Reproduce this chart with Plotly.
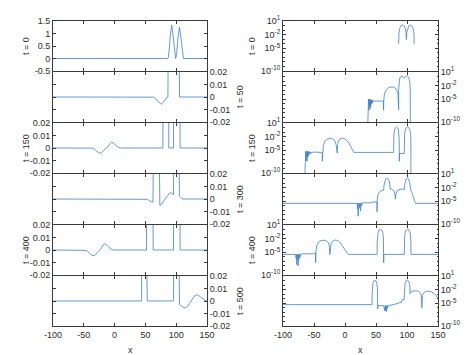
import plotly.graph_objects as go

# ---------------- data ----------------
times = [0, 50, 150, 300, 400, 500]

x_t0 = [-100, 86.4, 86.5, 86.63, 87.13, 88.38, 90.25, 92.75, 95.25, 97.13, 98.38, 98.88, 99.0,
        99.13, 99.63, 100.89, 102.78, 105.3, 107.82, 109.71, 110.97, 111.47, 111.6, 111.7, 150]
u_t0 = [0, 0, 1e-4, 1.33e-3, 0.033, 0.266, 0.865, 1.33, 0.865, 0.266, 0.033, 1.33e-3, 8e-4,
        1.25e-3, 0.031, 0.25, 0.81, 1.25, 0.81, 0.25, 0.031, 1.25e-3, 1e-4, 0, 0]

x_t50 = [-100, 36.6, 36.7, 37.1, 37.5, 37.9, 38.3, 38.7, 39.1, 39.6, 40.1, 40.6, 41.2, 41.8, 42.5,
         43.3, 44.2, 45.0, 45.8, 61.9, 62.2, 62.48, 63.58,
         66.34, 70.48, 76.0, 80.2, 83.35, 85.45, 86.29, 86.5, 86.6, 87.0, 88.0, 89.5, 91.3, 93.2,
         95.6, 98.0, 100.4, 102.2, 103.7, 104.7, 105.2, 105.4, 105.5, 150]
u_t50 = [0, 0, 1e-11, 9e-6, 3e-8, 1e-5, 1e-7, 8e-6, 4e-8, 9e-6, 3e-7, 8e-6, 1e-7, 9e-6, 8e-7,
         7e-6, 1.5e-6, 6e-6, 4e-6, 4e-6, 4e-8, -5.7e-6, -1.4e-4,
         -1.14e-3, -3.7e-3, -5.7e-3, -3.7e-3, -1.14e-3, -1.4e-4, -5.7e-6, 5e-8, 1.4e-3, 0.035, 0.28, 0.9, 1.38, 0.95,
         0.42, 0.95, 1.38, 0.9, 0.28, 0.035, 1.4e-3, 1e-12, 0, 0]

x_t150 = [-100, -64.8, -64.7, -64.3, -63.9, -63.5, -63.1, -62.7, -62.2, -61.7, -61.2, -60.6, -60.0,
          -59.2, -58.4, -57.4, -56.2, -54.8, -53.4, -52.4,
          -36.8, -36.6, -36.2, -35.0, -32.5, -29.0, -23.0, -19.0, -16.0, -14.0, -12.9,
          -12.5, -12.0, -10.5, -8.5, -6.0, -4.5, 0.0, 4.0, 7.0, 10.0, 12.5, 14.2, 78.4, 78.49, 78.86,
          79.78, 81.16, 83.0, 84.84, 86.22, 87.14, 87.51, 87.6, 88.0, 95.6, 95.71, 96.14, 97.21, 98.81,
          100.95, 103.09, 104.7, 105.77, 106.19, 106.3, 106.4, 150]
u_t150 = [0, 0, 1e-11, 6e-6, 2e-8, 6e-6, 5e-8, 5e-6, 1e-7, 6e-6, 4e-8, 5e-6, 3e-7,
          6e-6, 8e-7, 5e-6, 1.5e-6, 4.5e-6, 2.5e-6, 4e-6,
          3.4e-6, 4e-8, -4e-6, -1e-4, -9e-4, -2.8e-3, -4.2e-3, -2.8e-3, -9e-4, -1e-4, -4e-6,
          2.5e-6, 1e-4, 1e-3, 3e-3, 4.6e-3, 4.8e-3, 3e-3, 1e-3, 2.5e-4, 4e-5, 8e-6, 3.4e-6, 3.4e-6, 1.35e-3, 0.034,
          0.27, 0.88, 1.35, 0.88, 0.27, 0.034, 1.35e-3, 4e-8, 2e-6, 2e-6, 1.35e-3, 0.034, 0.27, 0.88,
          1.35, 0.88, 0.27, 0.034, 1.35e-3, 1e-12, 0, 0]

x_t300 = [-100, 19.6, 20.1, 20.6, 21.1, 21.6, 22.2, 22.8, 23.5, 24.2, 25.0, 25.9, 26.8, 27.7,
          43.0, 43.7, 51.5, 51.8, 52.0, 53.0, 55.0, 57.5, 60.0, 62.3, 62.94, 64.0,
          65.6, 67.75, 69.9, 71.5, 72.57, 73.1, 73.5, 75.0, 77.0, 79.0, 80.5, 81.2, 82.0, 84.0, 86.5,
          89.0, 91.4, 93.5, 95.5, 96.08, 97.04, 98.48, 100.4, 102.32, 103.76, 104.72, 105.2, 106.5,
          108.0, 109.5, 111.0, 112.3, 113.3, 150]
u_t300 = [3.5e-6, 3.5e-6, 2e-7, 4e-6, 5e-9, 3.6e-6, 3e-8, 4e-6, 4e-7, 4e-6, 8e-8, 4.2e-6, 1e-6, 4.5e-6,
          4.5e-6, 7e-6, 7e-6, 5e-8, -2e-5, -2.5e-4, -9e-4, -1.8e-3, -2.4e-3, -2.5e-3, 0.032, 0.26,
          0.85, 1.3, 0.85, 0.26, 0.032, -4.5e-3, -5.2e-3, -4.8e-3, -3.5e-3, -1.8e-3, -4e-4, -3e-5, 4e-4, 1.8e-3, 3.5e-3,
          4.6e-3, 5e-3, 4.5e-3, 3.5e-3, 0.032, 0.26, 0.85, 1.3, 0.85, 0.26, 0.032, 2.5e-3, 1.8e-3,
          8e-4, 2.5e-4, 5e-5, 1e-5, 3.5e-6, 3.5e-6]

x_t400 = [-100, -79.4, -78.9, -78.4, -77.9, -77.4, -76.8, -76.2, -75.5, -74.8, -74.0, -73.1, -72.1,
          -71.1, -70.3, -52.0, -51.0, -47.6, -47.3, -46.8, -45.5, -43.0,
          -40.0, -37.0, -34.0, -31.0, -28.0, -26.0, -25.0, -24.4, -23.8, -22.5, -20.5, -18.0, -16.0,
          -13.0, -10.0, -7.0, -4.5, -2.0, 1.0, 4.0, 6.2, 51.8, 51.91, 52.33, 53.39, 54.98, 57.1, 59.22,
          60.81, 61.87, 62.29, 62.4, 62.6, 95.6, 95.71, 96.14, 97.22, 98.84, 101.0, 103.16, 104.78,
          105.86, 106.29, 106.4, 150]
u_t400 = [3.4e-6, 3.4e-6, 5e-7, 3.6e-6, 2e-8, 3.6e-6, 1e-7, 3.8e-6, 1e-8, 3.8e-6, 3e-7, 4e-6, 1e-6,
          4.2e-6, 4.5e-6, 4.5e-6, 6e-6, 6e-6, 5e-8, -2e-5, -3e-4, -1.5e-3,
          -3.2e-3, -4.3e-3, -4.5e-3, -3.8e-3, -2e-3, -6e-4, -1e-4, -3e-6, 1e-4, 8e-4, 2.5e-3, 4.5e-3, 5e-3,
          4.2e-3, 2.6e-3, 1e-3, 3e-4, 7e-5, 1.5e-5, 5e-6, 3.4e-6, 3.4e-6, 1.2e-3, 0.03, 0.24, 0.78, 1.2, 0.78,
          0.24, 0.03, 1.2e-3, 5e-8, 3.4e-6, 3.4e-6, 1.2e-3, 0.03, 0.24, 0.78, 1.2, 0.78, 0.24,
          0.03, 1.2e-3, 3.4e-6, 3.4e-6]

x_t500 = [-100, 43.6, 43.79, 44.15, 45.05, 46.4, 48.2, 50.0, 51.35, 52.25, 52.61, 52.7, 53.0, 62.4,
          63.0, 63.6, 64.2, 64.8, 65.5, 66.2, 67.0, 67.8, 68.7, 69.6, 70.4, 80.0, 88.0,
          91.5, 92.0, 95.5, 95.7, 96.08, 97.04, 98.48, 100.4, 102.32, 103.76, 104.72, 105.1, 105.3,
          107.0, 110.0, 113.0, 116.0, 119.0, 121.5, 123.0, 124.0, 125.0, 127.0, 130.0, 133.0, 136.0,
          140.0, 144.0, 147.0, 150.0]
u_t500 = [5e-6, 5e-6, 1.25e-3, 0.031, 0.25, 0.81, 1.25, 0.81, 0.25, 0.031, 1.25e-3, 6e-7, 3e-6, 3e-6,
          4e-7, 3e-6, 2e-7, 3.2e-6, 3e-7, 3e-6, 1.5e-7, 3e-6, 8e-7, 3e-6, 3e-6, 6e-6, 1.2e-5,
          1.8e-5, 5.5e-5, 6e-5, 1.25e-3, 0.031, 0.25, 0.81, 1.25, 0.81, 0.25, 0.031, 1.25e-3, -2.5e-3,
          -3.5e-3, -4.8e-3, -5.5e-3, -5.3e-3, -4e-3, -2e-3, -6e-4, -1e-6, 5e-4, 2e-3, 4.2e-3, 5e-3, 4.5e-3,
          3e-3, 1.3e-3, 5e-4, 1e-4]

series = [(x_t0, u_t0), (x_t50, u_t50), (x_t150, u_t150),
          (x_t300, u_t300), (x_t400, u_t400), (x_t500, u_t500)]
for xs, us in series:
    assert len(xs) == len(us), (len(xs), len(us))

x_ticks = [-100, -50, 0, 50, 100, 150]
x_ticktext = ["-100", "-50", "0", "50", "100", "150"]
lin0_ticks = [-0.5, 0, 0.5, 1, 1.5]
lin0_text = ["-0.5", "0", "0.5", "1", "1.5"]
lin_ticks = [-0.02, -0.01, 0, 0.01, 0.02]
lin_text = ["-0.02", "-0.01", "0", "0.01", "0.02"]
log_ticks = [1e-10, 1e-5, 1e-2, 10]
log_text = ["10<sup>-10</sup>", "10<sup>-5</sup>", "10<sup>-2</sup>", "10<sup>1</sup>"]
log_minor = [10.0 ** k for k in range(-10, 2)]

# ---------------- layout geometry ----------------
W, H = 474, 355
left_dom = [45 / W, 199 / W]
right_dom = [275 / W, 430 / W]
top_px, ph, gap = 13, 50, 1   # 1 px gap so neighbouring frame lines coincide

line_c = "#3f7fc6"
axc = "#2b2b2b"
FONT = "Liberation Sans, Arial, sans-serif"

fig = go.Figure()
layout = {}
common = dict(showline=True, linecolor="#3a3a3a", linewidth=1, mirror="allticks",
              ticks="inside", ticklen=3, tickwidth=0.6, tickcolor="#3a3a3a",
              showgrid=False, zeroline=False, automargin=False,
              tickfont=dict(size=9, color=axc, family=FONT))

annotations = []
for i, (t, (xs, us)) in enumerate(zip(times, series)):
    ptop = top_px + i * (ph + gap)
    y1 = 1 - ptop / H
    y0 = 1 - (ptop + ph) / H
    side = "left" if i % 2 == 0 else "right"
    for col in (0, 1):
        n = 2 * i + col + 1
        xa = "xaxis" if n == 1 else f"xaxis{n}"
        ya = "yaxis" if n == 1 else f"yaxis{n}"
        xr = "x" if n == 1 else f"x{n}"
        yr = "y" if n == 1 else f"y{n}"
        layout[xa] = dict(common, domain=left_dom if col == 0 else right_dom, anchor=yr,
                          range=[-100, 150], tickvals=x_ticks, ticktext=x_ticktext,
                          showticklabels=(i == 5))
        if col == 0:
            if i == 0:
                yv, ytx, rng = lin0_ticks, lin0_text, [-0.5, 1.5]
            else:
                yv, ytx, rng = lin_ticks, lin_text, [-0.02, 0.02]
            layout[ya] = dict(common, domain=[y0, y1], anchor=xr, range=rng,
                              tickvals=yv, ticktext=ytx, side=side)
            yvals = us
        else:
            layout[ya] = dict(common, domain=[y0, y1], anchor=xr, type="log", range=[-10, 1],
                              tickvals=log_ticks, ticktext=log_text, side=side,
                              minor=dict(tickvals=log_minor, ticks="inside", ticklen=1.5,
                                         tickcolor="#3a3a3a", tickwidth=0.5))
            yvals = [abs(v) if v != 0 else None for v in us]
        fig.add_trace(go.Scatter(x=xs, y=yvals, mode="lines", xaxis=xr, yaxis=yr,
                                 line=dict(color=line_c, width=0.8), showlegend=False,
                                 connectgaps=False, hoverinfo="skip"))
        yc = 1 - (ptop + ph / 2) / H
        if col == 0:
            lx = 18 if side == "left" else 232
        else:
            lx = 244 if side == "left" else 462
        annotations.append(dict(x=lx / W, y=yc, xref="paper", yref="paper",
                                text=f"t = {t}", showarrow=False, textangle=-90,
                                xanchor="center", yanchor="middle",
                                font=dict(size=9, color=axc, family=FONT)))

for px in (122, 352):
    annotations.append(dict(x=px / W, y=1 - 342 / H, xref="paper", yref="paper", text="x",
                            showarrow=False, xanchor="center", yanchor="middle",
                            font=dict(size=9, color=axc, family=FONT)))

fig.update_layout(**layout)
fig.update_layout(width=W, height=H, margin=dict(l=0, r=0, t=0, b=0),
                  paper_bgcolor="white", plot_bgcolor="white",
                  font=dict(family=FONT, size=9, color=axc),
                  annotations=annotations, showlegend=False)
fig.write_html("out.html")
